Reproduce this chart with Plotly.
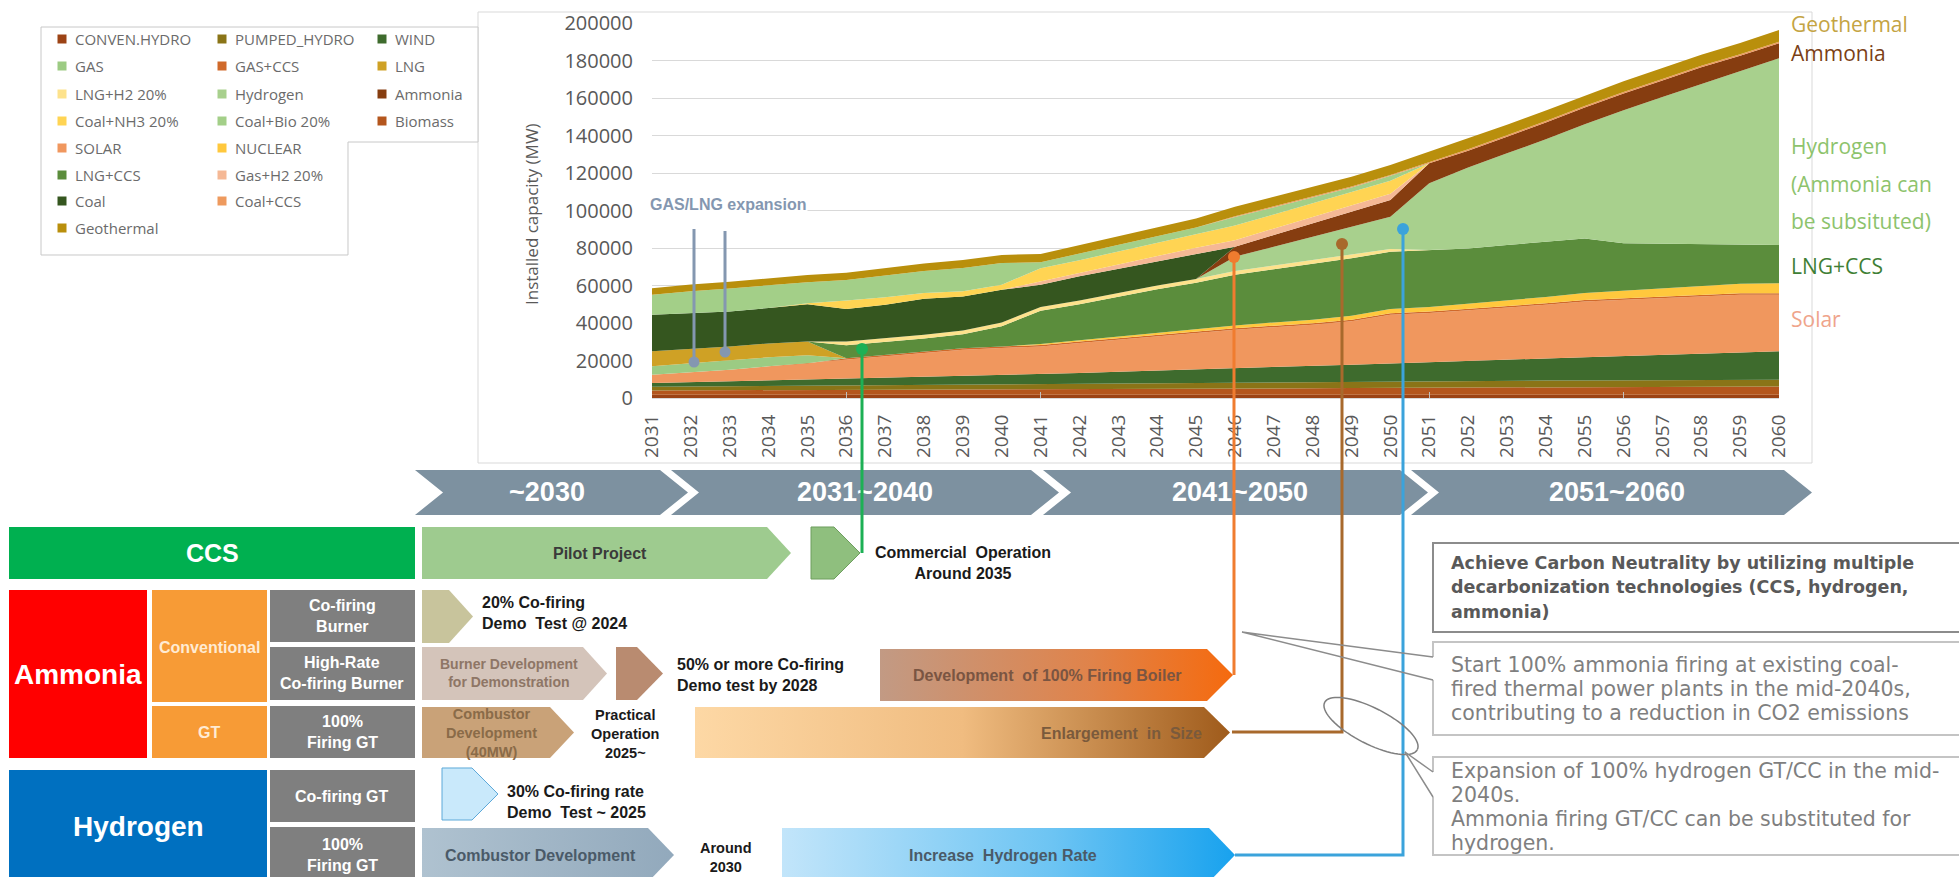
import math
import plotly.graph_objects as go

W, H = 1959, 877

# ---------------- data (MW) ----------------
years = [2031, 2032, 2033, 2034, 2035, 2036, 2037, 2038, 2039, 2040,
         2041, 2042, 2043, 2044, 2045, 2046, 2047, 2048, 2049, 2050,
         2051, 2052, 2053, 2054, 2055, 2056, 2057, 2058, 2059, 2060]
year_labels = ["2031", "2032", "2033", "2034", "2035", "2036", "2037", "2038", "2039", "2040",
               "2041", "2042", "2043", "2044", "2045", "2046", "2047", "2048", "2049", "2050",
               "2051", "2052", "2053", "2054", "2055", "2056", "2057", "2058", "2059", "2060"]

conven_hydro = [1800, 1800, 1800, 1800, 1800, 1800, 1800, 1800, 1800, 1800,
                1800, 1800, 1800, 1800, 1800, 1800, 1800, 1800, 1800, 1800,
                1800, 1800, 1800, 1800, 1800, 1800, 1800, 1800, 1800, 1800]
biomass = [2200, 2250, 2300, 2350, 2400, 2450, 2500, 2550, 2600, 2650,
           2700, 2800, 2900, 3000, 3100, 3200, 3300, 3400, 3500, 3600,
           3700, 3800, 3900, 4000, 4100, 4200, 4250, 4300, 4350, 4400]
pumped_hydro = [2000, 2100, 2200, 2300, 2400, 2500, 2600, 2700, 2800, 2900,
                3000, 3100, 3200, 3300, 3400, 3500, 3500, 3500, 3500, 3500,
                3500, 3500, 3500, 3500, 3500, 3500, 3500, 3500, 3500, 3500]
wind = [2000, 2300, 2600, 2900, 3200, 3600, 3900, 4200, 4500, 4800,
        5100, 5600, 6100, 6600, 7100, 7500, 8000, 8500, 9000, 9500,
        10000, 10600, 11200, 11800, 12400, 13000, 13500, 14000, 14600, 15200]
solar = [4400, 5250, 6200, 7550, 8800, 10050, 11400, 12750, 14100, 14550,
         14900, 16000, 17100, 18200, 19300, 20400, 21200, 21900, 23200, 26000,
         26300, 27000, 27600, 28600, 29700, 29900, 30250, 30600, 30850, 30200]
gas_ccs = [0, 0, 0, 0, 0, 800, 800, 800, 800, 800,
           800, 800, 800, 800, 800, 800, 800, 800, 800, 800,
           800, 800, 800, 800, 800, 800, 800, 800, 800, 800]
nuclear = [0, 0, 0, 0, 0, 0, 0, 0, 0, 0,
           500, 700, 900, 1100, 1300, 1500, 1700, 1900, 2100, 2300,
           2500, 2800, 3100, 3400, 3700, 4000, 4300, 4600, 5000, 5300]
gas = [4500, 5000, 5000, 4800, 4200, 0, 0, 0, 0, 0,
       0, 0, 0, 0, 0, 0, 0, 0, 0, 0,
       0, 0, 0, 0, 0, 0, 0, 0, 0, 0]
lng = [8000, 7300, 7400, 7400, 7300, 0, 0, 0, 0, 0,
       0, 0, 0, 0, 0, 0, 0, 0, 0, 0,
       0, 0, 0, 0, 0, 0, 0, 0, 0, 0]
lng_ccs = [0, 0, 0, 0, 0, 7000, 6800, 7000, 7400, 10800,
           17700, 19200, 21200, 23200, 24700, 27000, 28400, 29900, 30600, 30500,
           30300, 29500, 29700, 29500, 29100, 25300, 23900, 22700, 21200, 20400]
lng_h2 = [0, 0, 0, 0, 0, 2000, 2000, 2000, 2000, 2000,
          2000, 2000, 2000, 2000, 2000, 2000, 2000, 2000, 2000, 1500,
          0, 0, 0, 0, 0, 0, 0, 0, 0, 0]
hydrogen = [0, 0, 0, 0, 0, 0, 0, 0, 0, 0,
            0, 0, 0, 0, 0, 7700, 10000, 12300, 14900, 17200,
            35600, 43200, 48900, 54600, 60900, 71000, 78200, 85200, 92400, 99600]
ammonia = [0, 0, 0, 0, 0, 0, 0, 0, 0, 0,
           0, 0, 0, 0, 0, 5300, 6200, 7100, 8000, 8900,
           10700, 8900, 8900, 8900, 8900, 8900, 8900, 8900, 8000, 8000]
coal = [19500, 19300, 18700, 18900, 19900, 17300, 17900, 19200, 18200, 17400,
        11900, 13000, 13000, 13000, 13500, 0, 0, 0, 0, 0,
        0, 0, 0, 0, 0, 0, 0, 0, 0, 0]
gas_h2 = [0, 0, 0, 0, 0, 0, 0, 0, 0, 0,
          1800, 2000, 2500, 3000, 3200, 3500, 3500, 3400, 3300, 3300,
          0, 0, 0, 0, 0, 0, 0, 0, 0, 0]
coal_nh3 = [0, 0, 0, 0, 500, 4500, 4000, 3000, 2800, 2700,
            7000, 6500, 6600, 7000, 7100, 7800, 7500, 7300, 7000, 7000,
            0, 0, 0, 0, 0, 0, 0, 0, 0, 0]
coal_bio = [10700, 11700, 12200, 12100, 11300, 10900, 11500, 11700, 12400, 11600,
            3200, 3600, 3700, 3700, 3700, 4500, 4000, 3300, 2600, 2600,
            0, 0, 0, 0, 0, 0, 0, 0, 0, 0]
coal_ccs = [0, 0, 0, 0, 0, 0, 0, 0, 0, 0,
            0, 0, 0, 0, 0, 500, 500, 500, 500, 500,
            800, 800, 800, 800, 800, 800, 800, 800, 800, 800]
geothermal = [3400, 3500, 3600, 3700, 3800, 3900, 4000, 4100, 4200, 4300,
              4400, 4500, 4600, 4700, 4800, 5000, 5000, 5100, 5200, 5300,
              5400, 5500, 5500, 5600, 5600, 5700, 5800, 5900, 6000, 6300]

y_ticks = [0, 20000, 40000, 60000, 80000, 100000, 120000, 140000, 160000, 180000, 200000]

# stacking order, bottom -> top
series = [
    ("CONVEN.HYDRO", conven_hydro, "#9C4315"),
    ("Biomass", biomass, "#B4561D"),
    ("PUMPED_HYDRO", pumped_hydro, "#8A7417"),
    ("WIND", wind, "#3E6B2D"),
    ("SOLAR", solar, "#F0975E"),
    ("GAS+CCS", gas_ccs, "#D0692A"),
    ("NUCLEAR", nuclear, "#FFC83D"),
    ("GAS", gas, "#9CCB83"),
    ("LNG", lng, "#CFA125"),
    ("LNG+CCS", lng_ccs, "#5B8D3C"),
    ("LNG+H2 20%", lng_h2, "#FDE28C"),
    ("Hydrogen", hydrogen, "#A8D08D"),
    ("Ammonia", ammonia, "#863D10"),
    ("Coal", coal, "#35561F"),
    ("Gas+H2 20%", gas_h2, "#F5B895"),
    ("Coal+NH3 20%", coal_nh3, "#FFD453"),
    ("Coal+Bio 20%", coal_bio, "#A3CF88"),
    ("Coal+CCS", coal_ccs, "#EE9A5E"),
    ("Geothermal", geothermal, "#B98F0C"),
]
color_of = {n: c for n, _, c in series}

legend_grid = [
    ["CONVEN.HYDRO", "PUMPED_HYDRO", "WIND"],
    ["GAS", "GAS+CCS", "LNG"],
    ["LNG+H2 20%", "Hydrogen", "Ammonia"],
    ["Coal+NH3 20%", "Coal+Bio 20%", "Biomass"],
    ["SOLAR", "NUCLEAR"],
    ["LNG+CCS", "Gas+H2 20%"],
    ["Coal", "Coal+CCS"],
    ["Geothermal"],
]

period_labels = ["~2030", "2031~2040", "2041~2050", "2051~2060"]

box1_lines = ["Achieve Carbon Neutrality by utilizing multiple",
              "decarbonization technologies (CCS, hydrogen,",
              "ammonia)"]
box2_lines = ["Start 100% ammonia firing at existing coal-",
              "fired thermal power plants in the mid-2040s,",
              "contributing to a reduction in CO2 emissions"]
box3_lines = ["Expansion of 100% hydrogen GT/CC in the mid-",
              "2040s.",
              "Ammonia firing GT/CC can be substituted for",
              "hydrogen."]

# ---------------- helpers (pixel -> paper) ----------------
def X(px):
    return px / W


def Y(py):
    return 1 - py / H


ARIAL = "Liberation Sans, Arial, sans-serif"
OPEN = "Open Sans, sans-serif"
DEJA = "DejaVu Sans, Verdana, sans-serif"

shapes = []
annotations = []


def P(pts, closed=True):
    s = "M " + " L ".join(f"{X(x):.5f},{Y(y):.5f}" for x, y in pts)
    return s + (" Z" if closed else "")


def poly(pts, fill=None, lc=None, lw=0, layer="below", closed=True):
    shapes.append(dict(type="path", xref="paper", yref="paper", path=P(pts, closed),
                       fillcolor=fill if fill else "rgba(0,0,0,0)",
                       line=dict(color=lc if lc else "rgba(0,0,0,0)", width=lw),
                       layer=layer))


def box(x0, y0, x1, y1, fill=None, lc=None, lw=0, layer="below"):
    shapes.append(dict(type="rect", xref="paper", yref="paper",
                       x0=X(x0), x1=X(x1), y0=Y(y0), y1=Y(y1),
                       fillcolor=fill if fill else "rgba(0,0,0,0)",
                       line=dict(color=lc if lc else "rgba(0,0,0,0)", width=lw),
                       layer=layer))


def seg(pts, color, lw):
    poly(pts, None, color, lw, layer="above", closed=False)


def dot(cx, cy, r, color):
    shapes.append(dict(type="circle", xref="paper", yref="paper",
                       x0=X(cx - r), x1=X(cx + r), y0=Y(cy - r), y1=Y(cy + r),
                       fillcolor=color, line=dict(color=color, width=0), layer="above"))


def txt(x, y, s, size, color, family=ARIAL, bold=True, xanchor="center",
        align="center", angle=0, bg=None):
    lines = s.split("\n")
    if bold:
        lines = [f"<b>{l}</b>" for l in lines]
    a = dict(x=X(x), y=Y(y), xref="paper", yref="paper", text="<br>".join(lines),
             showarrow=False, font=dict(family=family, size=size, color=color),
             xanchor=xanchor, yanchor="middle", align=align, textangle=angle)
    if bg:
        a["bgcolor"] = bg
    annotations.append(a)


def arrow_pts(xl, yt, yb, xtip, depth):
    ym = (yt + yb) / 2
    return [(xl, yt), (xtip - depth, yt), (xtip, ym), (xtip - depth, yb), (xl, yb)]


def chevron_pts(xl, xr, yt, yb, d):
    ym = (yt + yb) / 2
    return [(xl, yt), (xr, yt), (xr + d, ym), (xr, yb), (xl, yb), (xl + d, ym)]


# ---------------- figure ----------------
fig = go.Figure()

for name, vals, col in series:
    fig.add_trace(go.Scatter(
        x=years, y=vals, name=name, mode="lines", stackgroup="capacity",
        line=dict(width=0, color=col), fillcolor=col,
        showlegend=False, hoverinfo="skip"))


def grad_arrow(xl, yt, yb, xtip, depth, colorscale):
    pts = arrow_pts(xl, yt, yb, xtip, depth)
    pts.append(pts[0])
    fig.add_trace(go.Scatter(
        x=[p[0] for p in pts], y=[p[1] for p in pts], xaxis="x2", yaxis="y2",
        mode="lines", line=dict(width=0), fill="toself",
        fillgradient=dict(type="horizontal", colorscale=colorscale, start=xl, stop=xtip),
        hoverinfo="skip", showlegend=False))


# chart frame + legend box
box(478, 12, 1812, 463, None, "#D9D9D9", 1)
poly([(41, 27), (478, 27), (478, 142), (348, 142), (348, 255), (41, 255)],
     "white", "#C8C8C8", 1)

col_mark = [62, 222, 382]
col_text = [73, 233, 393]
row_y = [39, 66, 94, 121, 148, 175, 201, 228]
for r, row in enumerate(legend_grid):
    for c, name in enumerate(row):
        box(col_mark[c] - 4.5, row_y[r] - 4.5, col_mark[c] + 4.5, row_y[r] + 4.5,
            color_of[name], None, 0, layer="above")
        txt(col_text[c], row_y[r], name, 15, "#6B6B6B", OPEN, bold=False,
            xanchor="left", align="left")

# axis title and right-side labels
txt(531, 214, "Installed capacity (MW)", 17, "#595959", OPEN, bold=False, angle=-90)
txt(1789, 24, "Geothermal", 21, "#C4A443", OPEN, bold=False, xanchor="left", align="left")
txt(1789, 53, "Ammonia", 21, "#7B3F16", OPEN, bold=False, xanchor="left", align="left")
txt(1789, 146, "Hydrogen", 21, "#8DC36C", OPEN, bold=False, xanchor="left", align="left")
txt(1789, 184, "(Ammonia can", 21, "#8DC36C", OPEN, bold=False, xanchor="left", align="left")
txt(1789, 221, "be subsituted)", 21, "#8DC36C", OPEN, bold=False, xanchor="left", align="left")
txt(1789, 266, "LNG+CCS", 21, "#3F7F35", OPEN, bold=False, xanchor="left", align="left")
txt(1789, 319, "Solar", 21, "#EFA48B", OPEN, bold=False, xanchor="left", align="left")

# GAS/LNG expansion callout
txt(728, 205, "GAS/LNG expansion", 16, "#8497B0", ARIAL, bg="white")
seg([(694, 229), (694, 362)], "#8497B0", 3)
seg([(725, 231), (725, 352)], "#8497B0", 3)
dot(694, 362, 5.5, "#8497B0")
dot(725, 352, 5.5, "#8497B0")

# timeline chevrons (labels as a text trace so the connectors can pass over them)
CHEV = "#7D91A0"
chev_geo = [(415, 660, 547), (671, 1031, 865), (1043, 1400, 1240), (1411, 1784, 1617)]
for xl, xr, cx in chev_geo:
    poly(chevron_pts(xl, xr, 470, 515, 28), CHEV)
fig.add_trace(go.Scatter(
    x=[g[2] for g in chev_geo], y=[494, 494, 494, 494], xaxis="x2", yaxis="y2",
    mode="text", text=[f"<b>{t}</b>" for t in period_labels],
    textfont=dict(family=ARIAL, size=27, color="white"), textposition="middle center",
    hoverinfo="skip", showlegend=False))

# left table
box(9, 527, 415, 579, "#00B050")
txt(212, 553, "CCS", 25, "white")
box(9, 590, 147, 758, "#FF0000")
txt(78, 674, "Ammonia", 28, "white")
box(152, 590, 267, 702, "#F79B36")
txt(209, 647, "Conventional", 16, "#FFEBD3")
box(152, 706, 267, 758, "#F79B36")
txt(209, 732, "GT", 16, "#FFEBD3")
box(270, 590, 415, 642, "#7F7F7F")
txt(342, 616, "Co-firing\nBurner", 16, "white")
box(270, 647, 415, 700, "#7F7F7F")
txt(342, 673, "High-Rate\nCo-firing Burner", 16, "white")
box(270, 706, 415, 758, "#7F7F7F")
txt(342, 732, "100%\nFiring GT", 16, "white")
box(9, 770, 267, 885, "#0070C0")
txt(138, 826, "Hydrogen", 28, "white")
box(270, 770, 415, 822, "#7F7F7F")
txt(342, 796, "Co-firing GT", 16, "white")
box(270, 827, 415, 885, "#7F7F7F")
txt(342, 855, "100%\nFiring GT", 16, "white")

# solid arrows
poly(arrow_pts(422, 527, 579, 791, 24), "#9ECB8F")
txt(600, 553, "Pilot Project", 16, "#3A3A3A")
poly(arrow_pts(811, 527, 579, 860, 26), "#8FBF7E", "#6E9E5F", 1)
txt(963, 563, "Commercial  Operation\nAround 2035", 16, "#1A1A1A")
poly(arrow_pts(422, 590, 643, 473, 24), "#C8C49C")
txt(480, 613, "20% Co-firing\nDemo  Test @ 2024", 16, "#1A1A1A", xanchor="left", align="left")
poly(arrow_pts(422, 647, 700, 607, 24), "#D4C4BA")
txt(509, 673, "Burner Development\nfor Demonstration", 14, "#8E7666")
poly(arrow_pts(616, 647, 700, 663, 26), "#B98B70")
txt(675, 675, "50% or more Co-firing\nDemo test by 2028", 16, "#1A1A1A", xanchor="left", align="left")
poly(arrow_pts(422, 707, 758, 574, 24), "#C9A278")
txt(491, 733, "Combustor\nDevelopment\n(40MW)", 14.5, "#8A6B48")
txt(625, 734, "Practical\nOperation\n2025~", 14.5, "#1A1A1A")
poly(arrow_pts(442, 768, 820, 498, 26), "#C9E9FB", "#5DA9D9", 1)
txt(505, 802, "30% Co-firing rate\nDemo  Test ~ 2025", 16, "#1A1A1A", xanchor="left", align="left")
txt(726, 857, "Around\n2030", 14.5, "#1A1A1A")

# gradient arrows
grad_arrow(880, 649, 701, 1233, 26, [[0, "#C29A84"], [0.6, "#E0834A"], [1, "#F56A0E"]])
txt(1047, 675, "Development  of 100% Firing Boiler", 16, "#7A5542")
grad_arrow(695, 707, 758, 1230, 26, [[0, "#FDD8A5"], [0.5, "#F0BC80"], [1, "#9F5B1B"]])
txt(1121, 733, "Enlargement  in  Size", 16, "#7A5A3C")
grad_arrow(422, 828, 882, 674, 26, [[0, "#AFC2D0"], [1, "#92A9BC"]])
txt(540, 855, "Combustor Development", 16, "#4A5A68")
grad_arrow(782, 828, 882, 1235, 26, [[0, "#C2E5FA"], [0.6, "#6CC4F3"], [1, "#18A2EE"]])
txt(1003, 855, "Increase  Hydrogen Rate", 16, "#4A5A68")

# connectors into the chart
seg([(862, 553), (862, 349)], "#1DB055", 3)
dot(862, 349, 6, "#1DB055")
seg([(1234, 675), (1234, 257)], "#F07C2F", 3)
dot(1234, 257, 6, "#F07C2F")
seg([(1232, 732), (1342, 732), (1342, 244)], "#A8692C", 3)
dot(1342, 244, 6, "#A8692C")
seg([(1235, 855), (1403, 855), (1403, 229)], "#3BA3DB", 3)
dot(1403, 229, 6, "#3BA3DB")

# callouts
seg([(1433, 657), (1242, 632), (1433, 680)], "#8C8C8C", 1.5)
cx, cy, ea, eb, ang = 1371, 726, 52, 18, math.radians(27)
ell = []
for k in range(73):
    t = 2 * math.pi * k / 72
    ex, ey = ea * math.cos(t), eb * math.sin(t)
    ell.append((cx + ex * math.cos(ang) - ey * math.sin(ang),
                cy + ex * math.sin(ang) + ey * math.cos(ang)))
seg(ell, "#7F7F7F", 1.5)
seg([(1433, 772), (1405, 752), (1433, 797)], "#8C8C8C", 1.5)

# text boxes on the right (one annotation per line for exact spacing)
box(1433, 543, 1975, 632, None, "#8C8C8C", 2)
for line, yy in zip(box1_lines, [563, 587, 612]):
    txt(1449, yy, line, 17.5, "#595959", DEJA, xanchor="left", align="left")
poly([(1433, 657), (1433, 642), (1975, 642), (1975, 735), (1433, 735), (1433, 680)],
     None, "#C4C4C4", 2, closed=False)
for line, yy in zip(box2_lines, [665, 689, 713]):
    txt(1449, yy, line, 20.5, "#7F7F7F", DEJA, bold=False, xanchor="left", align="left")
poly([(1433, 772), (1433, 757), (1975, 757), (1975, 855), (1433, 855), (1433, 797)],
     None, "#C4C4C4", 2, closed=False)
for line, yy in zip(box3_lines, [771, 795, 819, 843]):
    txt(1449, yy, line, 20.5, "#7F7F7F", DEJA, bold=False, xanchor="left", align="left")

fig.update_layout(
    width=W, height=H, autosize=False,
    margin=dict(l=0, r=0, t=0, b=0, pad=0),
    paper_bgcolor="white", plot_bgcolor="rgba(0,0,0,0)",
    template="none", showlegend=False,
    shapes=shapes, annotations=annotations,
    xaxis=dict(domain=[X(652), X(1779)], range=[2031, 2060],
               tickmode="array", tickvals=years, ticktext=year_labels,
               tickangle=-90, tickfont=dict(family=OPEN, size=19, color="#595959"),
               showgrid=False, zeroline=False, showline=True, linecolor="#D9D9D9",
               ticks="", ticklabelstandoff=8,
               minor=dict(tickmode="array", tickvals=[2036, 2041, 2046, 2051, 2056],
                          ticks="inside", ticklen=6, tickcolor="#BFBFBF", showgrid=False),
               fixedrange=True),
    yaxis=dict(domain=[Y(398), Y(23)], range=[0, 200000],
               tickmode="array", tickvals=y_ticks, tickformat="d",
               tickfont=dict(family=OPEN, size=20, color="#595959"),
               showgrid=True, gridcolor="#D9D9D9", gridwidth=1,
               zeroline=False, showline=False, ticks="", ticklabelstandoff=18,
               fixedrange=True),
    xaxis2=dict(domain=[0, 1], range=[0, W], visible=False, anchor="y2", fixedrange=True),
    yaxis2=dict(domain=[0, 1], range=[H, 0], visible=False, anchor="x2", fixedrange=True),
)

fig.write_html("out.html", config={"displayModeBar": False},
               post_script="document.body.style.margin='0';document.body.style.overflow='hidden';")
